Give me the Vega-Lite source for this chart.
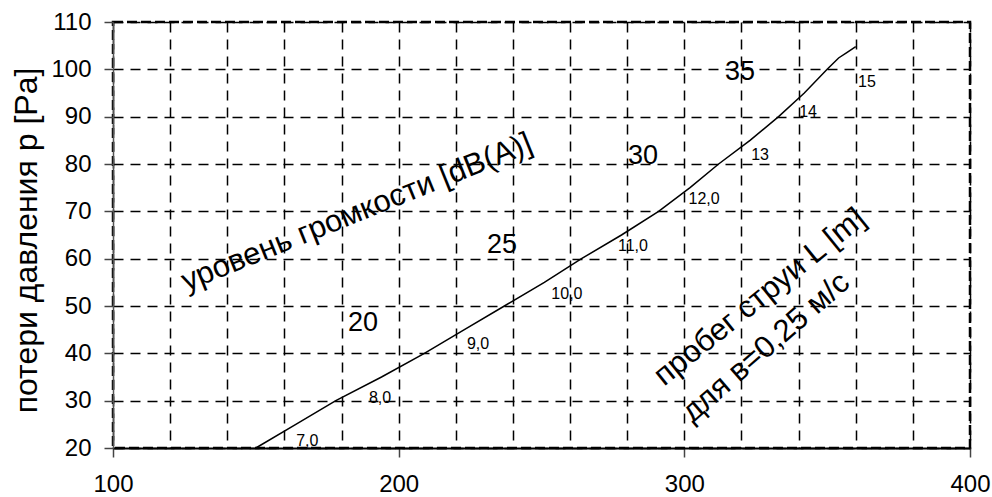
{
  "$schema": "https://vega.github.io/schema/vega-lite/v6.json",
  "width": 857,
  "height": 426,
  "autosize": "none",
  "padding": {"left": 113, "top": 22, "right": 22, "bottom": 49},
  "background": "white",
  "config": {
    "view": {"stroke": "black", "strokeWidth": 2.5, "strokeDash": [10, 4]},
    "font": "Liberation Sans",
    "axis": {
      "grid": true, "gridColor": "black", "gridDash": [10, 7], "gridWidth": 1.5, "gridOpacity": 1,
      "tickSize": 9, "tickColor": "#444", "tickWidth": 1.5,
      "labelFontSize": 24, "labelColor": "black", "labelOverlap": false, "labelFlush": false
    },
    "axisX": {"domainColor": "black", "domainWidth": 2, "labelPadding": 15},
    "axisY": {"domainColor": "#555", "domainWidth": 1.5, "labelPadding": 13}
  },
  "datasets": {
    "curve": [
      {"v": 150, "p": 20}, {"v": 164, "p": 25}, {"v": 178, "p": 30}, {"v": 194, "p": 35},
      {"v": 209, "p": 40}, {"v": 223, "p": 45}, {"v": 237, "p": 50}, {"v": 251, "p": 55},
      {"v": 264, "p": 60}, {"v": 278, "p": 65}, {"v": 291, "p": 70}, {"v": 302, "p": 75},
      {"v": 312, "p": 80}, {"v": 323, "p": 85}, {"v": 333, "p": 90}, {"v": 342, "p": 95},
      {"v": 350, "p": 100}, {"v": 354, "p": 102.4}, {"v": 357, "p": 103.6}, {"v": 360, "p": 104.8}
    ],
    "small": [
      {"v": 168, "p": 21.4, "t": "7,0"}, {"v": 193.5, "p": 30.5, "t": "8,0"},
      {"v": 227.8, "p": 41.9, "t": "9,0"}, {"v": 258.9, "p": 52.6, "t": "10,0"},
      {"v": 282, "p": 62.6, "t": "11,0"}, {"v": 306.9, "p": 72.7, "t": "12,0"},
      {"v": 326.5, "p": 81.8, "t": "13"}, {"v": 343.3, "p": 90.9, "t": "14"},
      {"v": 363.9, "p": 97.4, "t": "15"}
    ],
    "big": [
      {"v": 187.5, "p": 46.5, "t": "20"}, {"v": 236.2, "p": 62.8, "t": "25"},
      {"v": 285.5, "p": 81.6, "t": "30"}, {"v": 319.5, "p": 99.5, "t": "35"}
    ],
    "rot": [
      {"v": 185.4, "p": 69.7, "t": "уровень громкости [dB(A)]", "a": 338},
      {"v": 326.5, "p": 51.8, "t": "пробег струи L [m]", "a": 321},
      {"v": 328.6, "p": 41.2, "t": "для в=0,25 м/с", "a": 319}
    ]
  },
  "layer": [
    {
      "data": {"name": "curve"},
      "mark": {"type": "line", "color": "black", "strokeWidth": 1.5},
      "encoding": {
        "x": {
          "field": "v", "type": "quantitative",
          "scale": {"domain": [100, 400], "nice": false, "zero": false},
          "axis": {
            "values": [100, 120, 140, 160, 180, 200, 220, 240, 260, 280, 300, 320, 340, 360, 380, 400],
            "labelExpr": "datum.value % 100 === 0 ? datum.label : ''",
            "tickOpacity": {"condition": {"test": "datum.value % 100 === 0", "value": 1}, "value": 0},
            "title": null
          }
        },
        "y": {
          "field": "p", "type": "quantitative",
          "scale": {"domain": [20, 110], "nice": false, "zero": false},
          "axis": {
            "values": [20, 30, 40, 50, 60, 70, 80, 90, 100, 110],
            "title": "потери давления p [Pa]",
            "titleFontSize": 32, "titleFontWeight": "normal", "titleColor": "black",
            "titleX": -87, "titleY": 218, "titleAngle": -90,
            "titleAlign": "center", "titleBaseline": "middle"
          }
        }
      }
    },
    {
      "data": {"name": "small"},
      "mark": {"type": "text", "fontSize": 16, "color": "black", "align": "center", "baseline": "middle"},
      "encoding": {
        "x": {"field": "v", "type": "quantitative"},
        "y": {"field": "p", "type": "quantitative"},
        "text": {"field": "t"}
      }
    },
    {
      "data": {"name": "big"},
      "mark": {"type": "text", "fontSize": 27, "color": "black", "align": "center", "baseline": "middle"},
      "encoding": {
        "x": {"field": "v", "type": "quantitative"},
        "y": {"field": "p", "type": "quantitative"},
        "text": {"field": "t"}
      }
    },
    {
      "data": {"name": "rot"},
      "mark": {"type": "text", "fontSize": 31, "color": "black", "align": "center", "baseline": "middle"},
      "encoding": {
        "x": {"field": "v", "type": "quantitative"},
        "y": {"field": "p", "type": "quantitative"},
        "text": {"field": "t"},
        "angle": {"field": "a", "type": "quantitative", "scale": null}
      }
    }
  ]
}
